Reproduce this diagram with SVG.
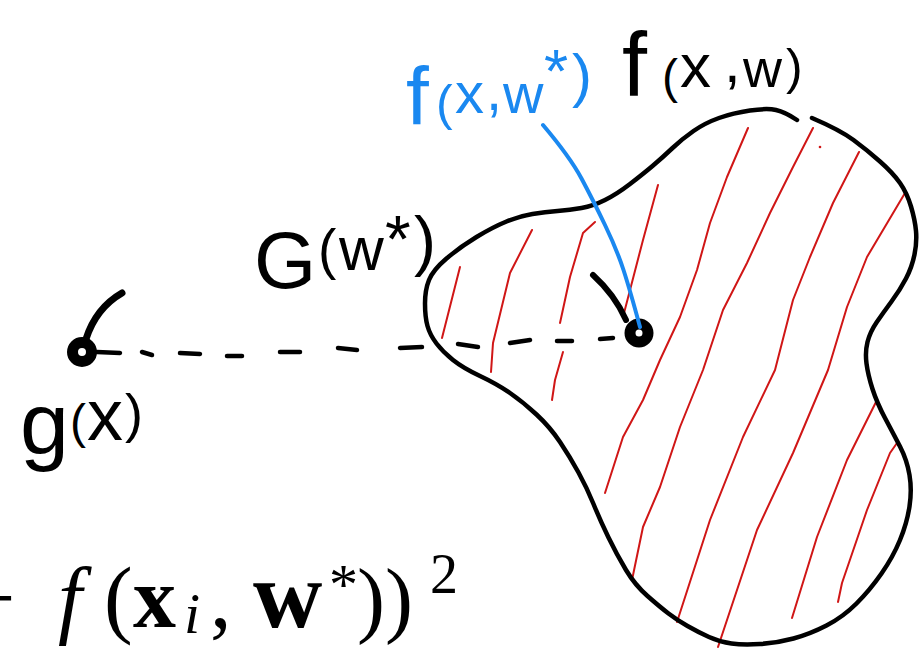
<svg xmlns="http://www.w3.org/2000/svg" width="921" height="649" viewBox="0 0 921 649">
<style>
.ink{fill:none;stroke:#000;stroke-linecap:round;stroke-linejoin:round}
.outline{stroke-width:4.5}
.hatch{fill:none;stroke:#d01616;stroke-width:2;stroke-linecap:round;stroke-linejoin:round}
.dash{fill:none;stroke:#000;stroke-width:4.5;stroke-linecap:round}
.lead{fill:none;stroke:#1a88f0;stroke-width:4;stroke-linecap:round}
.hand{font-family:"Liberation Sans","DejaVu Sans",sans-serif}
.math{font-family:"Liberation Serif","DejaVu Serif",serif;fill:#000}
</style>
<rect width="921" height="649" fill="#fff"/>

<g id="region-G">
<g id="hatching">
<polyline class="hatch" points="460,267 442,338"/>
<polyline class="hatch" points="532,230 510,273 493,343 491,372"/>
<polyline class="hatch" points="595,222 583,233 570,277 560,323"/>
<polyline class="hatch" points="563,352 555,380 552,400"/>
<polyline class="hatch" points="658,185 643,240 623,317"/>
<polyline class="hatch" points="748,128 727,177 710,223 697,270 680,317 660,360 643,400 623,437 605,493"/>
<polyline class="hatch" points="813,128 793,167 770,213 747,263 723,310 703,370 680,427 660,487 643,527 632,580"/>
<polyline class="hatch" points="859,152 833,203 810,257 793,300 775,370 743,437 710,520 677,622"/>
<polyline class="hatch" points="905,193 867,257 847,307 828,370 793,453 757,530 718,647"/>
<polyline class="hatch" points="876,402 847,460 817,537 792,618"/>
<polyline class="hatch" points="897,443 890,453 867,510 842,583 838,602"/>
<circle cx="820" cy="147" r="1.3" fill="#d01616"/>
</g>
<path class="ink outline" d="M812,118 Q840,130 853.5,140 Q867,150 880,161.5 Q893,173 900,183 Q907,193 911,206.5 Q915,220 916,231 Q917,242 914.5,254.5 Q912,267 906,278.5 Q900,290 891.5,301.5 Q883,313 876.5,322.5 Q870,332 867.5,342 Q865,352 866.5,363.5 Q868,375 872.5,389 Q877,403 885,418 Q893,433 900,446.5 Q907,460 909.5,475 Q912,490 909.5,506.5 Q907,523 900,540 Q893,557 881.5,573.5 Q870,590 856.5,603.5 Q843,617 826.5,625.5 Q810,634 793.5,638.5 Q777,643 760,644 Q743,645 731.5,643.5 Q720,642 709,637 Q698,632 687.5,626 Q677,620 668.5,613.5 Q660,607 647.5,596 Q635,585 626,570 Q617,555 608.5,537.5 Q600,520 593.5,504 Q587,488 578.5,472.5 Q570,457 560,442 Q550,427 536.5,414.5 Q523,402 510,393 Q497,384 480,376 Q463,368 453,360 Q443,352 436.5,343.5 Q430,335 427.5,326 Q425,317 425,303.5 Q425,290 429,280 Q433,270 446.5,258.5 Q460,247 476.5,237 Q493,227 506.5,221.5 Q520,216 532.5,214 Q545,212 557.5,211 Q570,210 581.5,208 Q593,206 605,200 Q617,194 630,184 Q643,174 652.5,166 Q662,158 672,148.5 Q682,139 693.5,131 Q705,123 719,118 Q733,113 750,110.5 Q767,108 776,110 Q785,112 797,120"/>
<text class="hand" fill="#000"><tspan x="254" y="288" font-size="80">G</tspan><tspan x="318" y="268" font-size="55">(</tspan><tspan x="339" y="270" font-size="62">w</tspan><tspan x="385" y="262" font-size="66">*</tspan><tspan x="414" y="263" font-size="66">)</tspan></text>
<text class="hand" fill="#000"><tspan x="622" y="96" font-size="90">f</tspan><tspan x="662" y="93" font-size="48">(</tspan><tspan x="680" y="87" font-size="62">x</tspan><tspan x="724" y="82" font-size="60">,</tspan><tspan x="743" y="87" font-size="54">w</tspan><tspan x="786" y="84" font-size="50">)</tspan></text>
</g>

<g id="connectors">
<line class="dash" x1="97" y1="352" x2="120" y2="353"/>
<line class="dash" x1="142" y1="352" x2="152" y2="355"/>
<line class="dash" x1="180" y1="353" x2="200" y2="354"/>
<line class="dash" x1="227" y1="356" x2="242" y2="356"/>
<line class="dash" x1="280" y1="352" x2="300" y2="352"/>
<line class="dash" x1="338" y1="348" x2="357" y2="350"/>
<line class="dash" x1="400" y1="348" x2="422" y2="347"/>
<line class="dash" x1="458" y1="344" x2="478" y2="347"/>
<line class="dash" x1="510" y1="343" x2="530" y2="340"/>
<line class="dash" x1="557" y1="341" x2="572" y2="341"/>
<line class="dash" x1="600" y1="339" x2="613" y2="338"/>
</g>

<g id="node-gx">
<circle cx="82" cy="352" r="9.5" fill="#fff" stroke="#000" stroke-width="11"/>
<path class="ink" stroke-width="7" d="M86,339 Q96,308 122,293"/>
<text class="hand" fill="#000"><tspan x="20" y="454" font-size="88">g</tspan><tspan x="70" y="438" font-size="48">(</tspan><tspan x="87" y="440" font-size="72">x</tspan><tspan x="125" y="432" font-size="54">)</tspan></text>
</g>

<g id="node-fxw-star">
<circle cx="639" cy="333" r="9" fill="#fff" stroke="#000" stroke-width="11"/>
<path class="ink" stroke-width="6" d="M626,320 Q615,295 593,275"/>
<path class="lead" d="M543,125 Q570,157 581.5,178.5 Q593,200 605,225 Q617,250 623.5,270 Q630,290 640,327"/>
<text class="hand" fill="#1a88f0"><tspan x="406" y="124" font-size="82">f</tspan><tspan x="436" y="120" font-size="50">(</tspan><tspan x="455" y="113" font-size="58">x</tspan><tspan x="486" y="110" font-size="58">,</tspan><tspan x="503" y="113" font-size="56">w</tspan><tspan x="544" y="92" font-size="62">*</tspan><tspan x="572" y="96" font-size="60">)</tspan></text>
</g>

<g id="formula">
<text class="math"><tspan x="-33" y="627" font-size="86">−</tspan><tspan x="58" y="627" font-size="86" font-style="italic">f</tspan><tspan x="104" y="627" font-size="86">(</tspan><tspan x="133" y="627" font-size="86" font-weight="bold">x</tspan><tspan x="184" y="633" font-size="58" font-style="italic">i</tspan><tspan x="210" y="627" font-size="86">,</tspan><tspan x="253" y="627" font-size="96" font-weight="bold">w</tspan><tspan x="329" y="604" font-size="58">*</tspan><tspan x="357" y="627" font-size="84">)</tspan><tspan x="385" y="627" font-size="84">)</tspan><tspan x="430" y="593" font-size="56">2</tspan></text>
</g>
</svg>
